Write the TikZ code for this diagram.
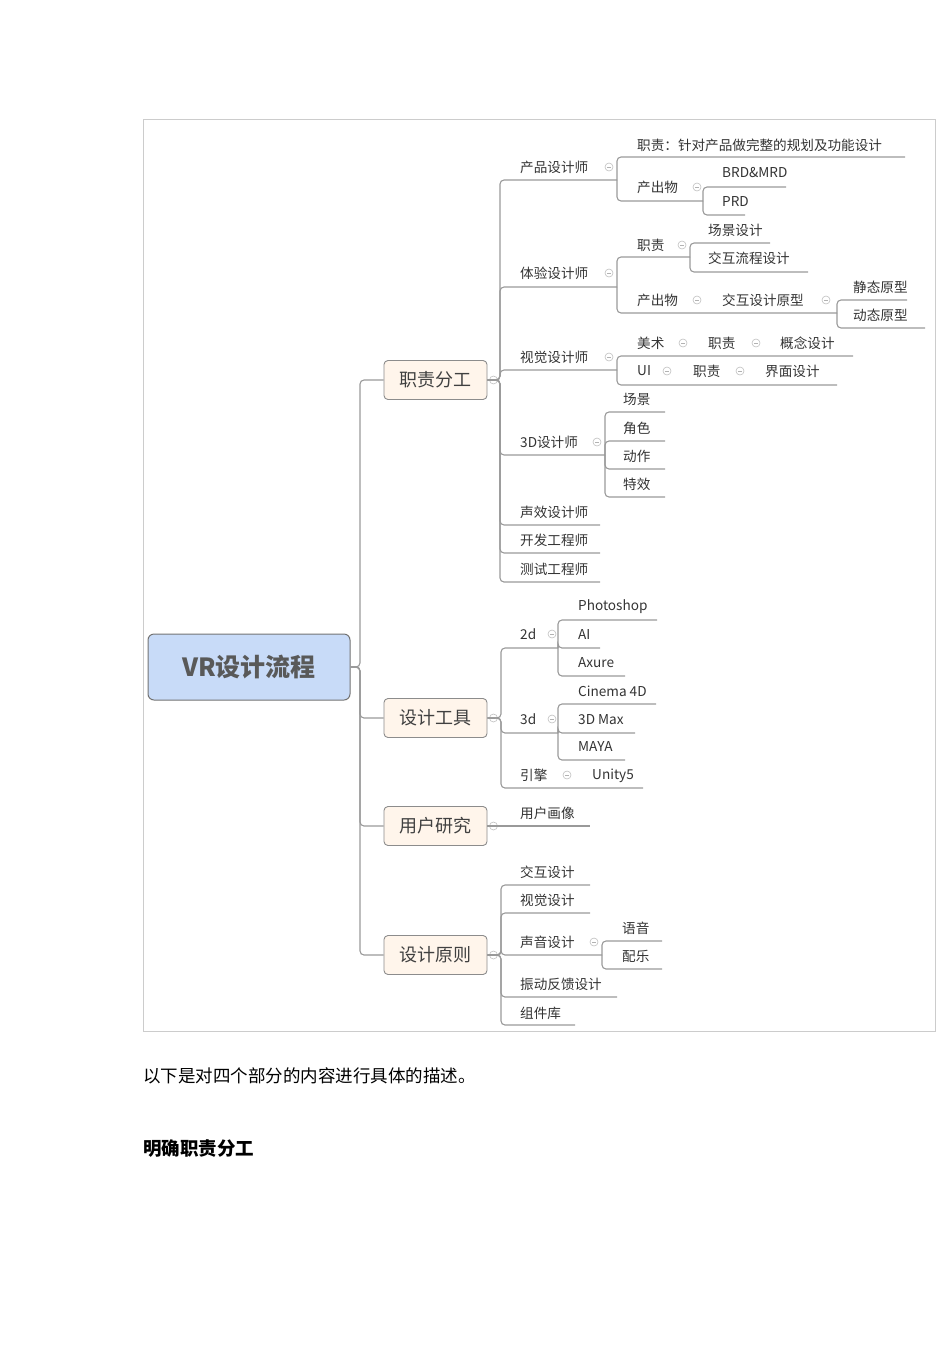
\documentclass[tikz,border=0pt]{standalone}
\usepackage{fontspec}
\setmainfont{Noto Sans CJK SC}
\definecolor{rootblue}{HTML}{C8DBF8}
\begin{document}
\begin{tikzpicture}[x=1pt,y=-1pt,
  br/.style={draw=black!40,line width=1.1pt,rounded corners=4pt},
  lf/.style={anchor=west,inner sep=0pt,text=black!80,font=\fontsize{13.6}{14}\selectfont},
  lone/.style={draw=black!45,fill=orange!8,rounded corners=4pt,line width=0.9pt,minimum width=103pt,minimum height=39pt,font=\fontsize{18}{18}\selectfont,text=black!75},
  col/.style={circle,draw=black!25,line width=0.6pt,minimum size=8pt,inner sep=0pt,path picture={\draw[black!30,line width=0.6pt](path picture bounding box.west)++(2pt,0)--++(4pt,0);}}]
\useasboundingbox (0,0) rectangle (950,1345);
\draw[black!20,line width=0.8pt] (143,119) rectangle (935,1031);
% root
\node[draw=black!55,fill=rootblue,rounded corners=6pt,line width=1pt,minimum width=202pt,minimum height=66pt,font=\fontsize{25}{25}\selectfont\bfseries,text=black!65] (root) at (249,667) {VR设计流程};
\node[lone] (a) at (435.5,380) {职责分工};
\node[lone] (b) at (435.5,718) {设计工具};
\node[lone] (c) at (435.5,826) {用户研究};
\node[lone] (d) at (435.5,955) {设计原则};
\foreach \n in {a,b,c,d}{\draw[br] (root.east) -- (360,667) |- (\n.west);}
\foreach \n in {a,b,c,d}{\node[col] at ([xshift=6pt]\n.east) {};}
% ---- a ----
\foreach \y/\e in {180/617,287/617,370/617,455/605,525/600,553/600,582/600}{\draw[br] (a.east) -- (500,380) |- (\e,\y);}
\node[lf] (a1) at (520,167) {产品设计师};
\node[lf] (a2) at (520,273) {体验设计师};
\node[lf] (a3) at (520,357) {视觉设计师};
\node[lf] (a4) at (520,442) {3D设计师};
\node[lf] (a5) at (520,512) {声效设计师};
\node[lf] (a6) at (520,540) {开发工程师};
\node[lf] (a7) at (520,569) {测试工程师};
\foreach \n/\y in {a1/167,a2/273,a3/357}{\node[col] at (609,\y) {};}
\node[col] at (597,442) {};
% a1
\draw[br] (617,180) |- (905,157);
\draw[br] (617,180) |- (703,201);
\node[lf] (a11) at (637,145) {职责：针对产品做完整的规划及功能设计};
\node[lf] (a12) at (637,187) {产出物};
\node[col] at (697,187) {};
\draw[br] (703,201) |- (786,187);
\draw[br] (703,201) |- (745,215);
\node[lf] (a121) at (722,173) {BRD\&MRD};
\node[lf] (a122) at (722,202) {PRD};
% a2
\draw[br] (617,287) |- (690,257);
\draw[br] (617,287) |- (837,313);
\node[lf] (a21) at (637,245) {职责};
\node[col] at (682,245) {};
\draw[br] (690,257) |- (770,243);
\draw[br] (690,257) |- (808,272);
\node[lf] at (708,230) {场景设计};
\node[lf] at (708,258) {交互流程设计};
\node[lf] (a22) at (637,300) {产出物};
\node[col] at (697,300) {};
\node[lf] (a221) at (722,300) {交互设计原型};
\node[col] at (826,300) {};
\draw[br] (837,313) |- (907,300);
\draw[br] (837,313) |- (925,328);
\node[lf] at (853,287) {静态原型};
\node[lf] at (853,315) {动态原型};
% a3
\draw[br] (617,370) |- (853,356);
\draw[br] (617,370) |- (837,385);
\node[lf] at (637,343) {美术};
\node[col] at (683,343) {};
\node[lf] at (708,343) {职责};
\node[col] at (756,343) {};
\node[lf] at (780,343) {概念设计};
\node[lf] at (637,371) {UI};
\node[col] at (667,371) {};
\node[lf] at (693,371) {职责};
\node[col] at (740,371) {};
\node[lf] at (765,371) {界面设计};
% a4
\foreach \y/\t in {412/场景,441/角色,469/动作,497/特效}{\draw[br] (605,455) |- (665,\y); \node[lf] at (623,\y-13) {\t};}
% ---- b ----
\foreach \y/\e in {648/558,733/558,788/643}{\draw[br] (b.east) -- (501,718) |- (\e,\y);}
\node[lf] at (520,634) {2d};
\node[col] at (552,634) {};
\node[lf] at (520,719) {3d};
\node[col] at (552,719) {};
\node[lf] at (520,775) {引擎};
\node[col] at (567,775) {};
\node[lf] at (592,776) {Unity5};
\foreach \y/\e/\t in {620/657/Photoshop,648/600/AI,676/625/Axure}{\draw[br] (558,648) |- (\e,\y); \node[lf] at (578,\y-13) {\t};}
\foreach \y/\e/\t in {704/656/Cinema 4D,733/635/3D Max,760/625/MAYA}{\draw[br] (558,733) |- (\e,\y); \node[lf] at (578,\y-13) {\t};}
% ---- c ----
\draw[br] (c.east) -- (590,826);
\node[lf] at (520,813) {用户画像};
% ---- d ----
\foreach \y/\e in {885/590,913/590,955/602,997/617,1025/575}{\draw[br] (d.east) -- (501,955) |- (\e,\y);}
\node[lf] at (520,872) {交互设计};
\node[lf] at (520,900) {视觉设计};
\node[lf] at (520,942) {声音设计};
\node[col] at (594,942) {};
\node[lf] at (520,984) {振动反馈设计};
\node[lf] at (520,1013) {组件库};
\draw[br] (602,955) |- (662,941);
\draw[br] (602,955) |- (662,969);
\node[lf] at (622,928) {语音};
\node[lf] at (622,956) {配乐};
% text below
\node[anchor=west,inner sep=0pt,font=\fontsize{17.5}{18}\selectfont] at (143,1076) {以下是对四个部分的内容进行具体的描述。};
\node[anchor=west,inner sep=0pt,font=\fontsize{18.5}{19}\selectfont\bfseries] at (143,1149) {明确职责分工};
\end{tikzpicture}
\end{document}
